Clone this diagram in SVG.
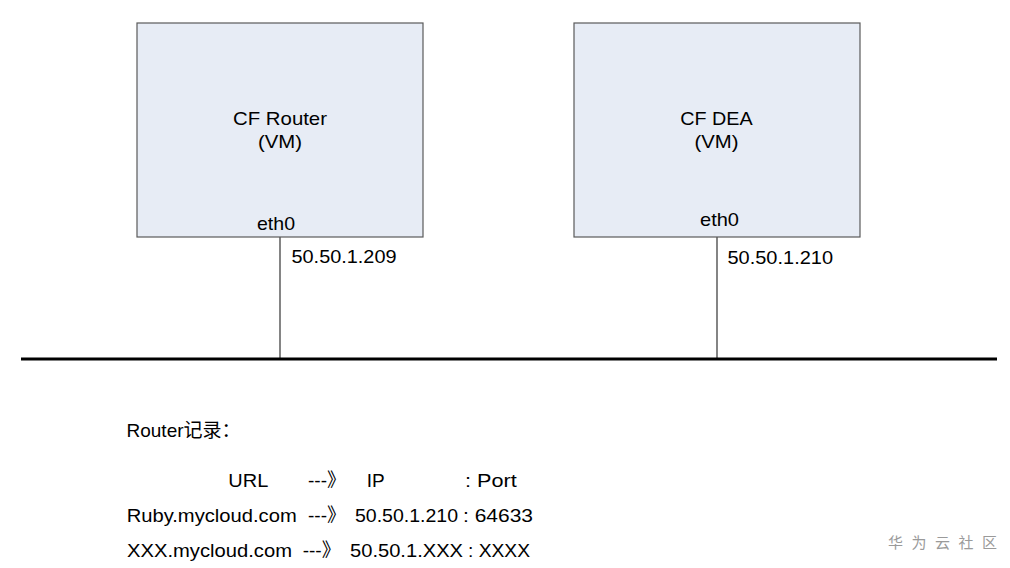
<svg xmlns="http://www.w3.org/2000/svg" width="1010" height="568" viewBox="0 0 1010 568">
<style>
.box{fill:#e7ecf5;stroke:#5a5a5a;stroke-width:1.2}
.t{font-family:"Liberation Sans",Arial,"Noto Sans CJK SC",sans-serif;font-size:19px;fill:#000}
.c{text-anchor:middle}
.wire{stroke:#333;stroke-width:1.2;fill:none}
.bus{stroke:#000;stroke-width:3;fill:none}
.wm{font-family:"Noto Sans CJK SC",sans-serif;font-size:15px;fill:#9a9a9a}
</style>
<rect width="1010" height="568" fill="#fff"/>
<g id="connectors">
<line class="wire" x1="280" y1="237" x2="280" y2="359"/>
<line class="wire" x1="717" y1="237" x2="717" y2="359"/>
<line class="bus" x1="21" y1="359" x2="997" y2="359"/>
</g>
<g id="cf-router">
<rect class="box" x="137" y="23" width="286" height="214"/>
<text class="t c" x="280" y="124.5" textLength="94" lengthAdjust="spacingAndGlyphs">CF Router</text>
<text class="t c" x="280" y="147.5" textLength="44" lengthAdjust="spacingAndGlyphs">(VM)</text>
<text class="t c" x="276" y="229.5" textLength="38" lengthAdjust="spacingAndGlyphs">eth0</text>
</g>
<g id="cf-dea">
<rect class="box" x="574" y="23" width="286" height="214"/>
<text class="t c" x="716.5" y="124.5" textLength="72.5" lengthAdjust="spacingAndGlyphs">CF DEA</text>
<text class="t c" x="716.5" y="147.5" textLength="44" lengthAdjust="spacingAndGlyphs">(VM)</text>
<text class="t c" x="719.5" y="225.5" textLength="39" lengthAdjust="spacingAndGlyphs">eth0</text>
</g>
<g id="ip-labels">
<text class="t" x="291.5" y="263" textLength="105" lengthAdjust="spacingAndGlyphs">50.50.1.209</text>
<text class="t" x="727.5" y="263.5" textLength="105.5" lengthAdjust="spacingAndGlyphs">50.50.1.210</text>
</g>
<g id="router-records">
<text class="t" x="126.5" y="436.5">Router记录：</text>
<text class="t" x="228.3" y="486.5" textLength="40" lengthAdjust="spacingAndGlyphs">URL</text>
<text class="t" x="308" y="486.5">---》</text>
<text class="t" x="366.7" y="486.5">IP</text>
<text class="t" x="465" y="486.5" textLength="51.7" lengthAdjust="spacingAndGlyphs">: Port</text>
<text class="t" x="126.7" y="521.5" textLength="170" lengthAdjust="spacingAndGlyphs">Ruby.mycloud.com</text>
<text class="t" x="308" y="521.5">---》</text>
<text class="t" x="355" y="521.5" textLength="103" lengthAdjust="spacingAndGlyphs">50.50.1.210</text>
<text class="t" x="463" y="521.5" textLength="70" lengthAdjust="spacingAndGlyphs">: 64633</text>
<text class="t" x="127" y="556.5" textLength="165" lengthAdjust="spacingAndGlyphs">XXX.mycloud.com</text>
<text class="t" x="302.7" y="556.5">---》</text>
<text class="t" x="350" y="556.5" textLength="113" lengthAdjust="spacingAndGlyphs">50.50.1.XXX</text>
<text class="t" x="468" y="556.5" textLength="62" lengthAdjust="spacingAndGlyphs">: XXXX</text>
</g>
<text class="wm" x="888" y="548" textLength="109" lengthAdjust="spacing">华 为 云 社 区</text>
</svg>
